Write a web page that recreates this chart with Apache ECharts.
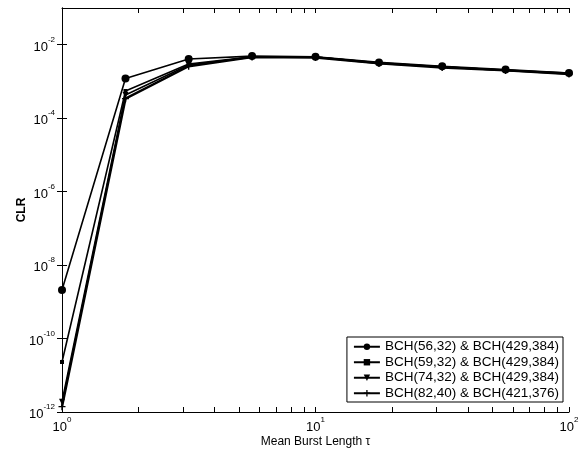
<!DOCTYPE html>
<html>
<head>
<meta charset="utf-8">
<style>
  html, body { margin: 0; padding: 0; background: #fff; }
  #chart { width: 579px; height: 458px; }
</style>
<script src="https://cdn.jsdelivr.net/npm/echarts@6/dist/echarts.min.js"></script>
</head>
<body>
<div id="chart"></div>
<script>
// mean burst length values (x) and CLR per code pair (y)
const burstLength = [1, 1.78, 3.16, 5.62, 10, 17.8, 31.6, 56.2, 100];
const clr5632 = [2.1e-9, 1.2e-3, 4.1e-3, 4.9e-3, 4.7e-3, 3.3e-3, 2.6e-3, 2.1e-3, 1.7e-3];
const clr5932 = [2.3e-11, 5.5e-4, 3.0e-3, 4.7e-3, 4.6e-3, 3.2e-3, 2.5e-3, 2.0e-3, 1.7e-3];
const clr7432 = [1.9e-12, 4.3e-4, 2.8e-3, 4.6e-3, 4.6e-3, 3.1e-3, 2.5e-3, 2.0e-3, 1.6e-3];
const clr8240 = [1.4e-12, 3.4e-4, 2.6e-3, 4.6e-3, 4.5e-3, 3.1e-3, 2.4e-3, 2.0e-3, 1.6e-3];
const seriesNames = [
    'BCH(56,32) & BCH(429,384)',
    'BCH(59,32) & BCH(429,384)',
    'BCH(74,32) & BCH(429,384)',
    'BCH(82,40) & BCH(421,376)'
];
const xDecades = [0, 1, 2];
const yDecades = [-12, -10, -8, -6, -4, -2];

const font = '"Liberation Sans", Arial, sans-serif';
const plusPath = 'path://M4,0 L6,0 L6,4 L10,4 L10,6 L6,6 L6,10 L4,10 L4,6 L0,6 L0,4 L4,4 Z';

// minor tick positions on the log x-axis
let xMinor = [];
[1, 10].forEach(d => {
    for (let k = 2; k <= 9; k++) xMinor.push(Math.log10(k * d));
});

function toPairs(ys) {
    return burstLength.map((x, i) => [Math.log10(x), Math.log10(ys[i])]);
}

function powLabel(v) {
    return '{b|10}{s|' + v + '}';
}

const richLabel = {
    b: { fontSize: 13, fontFamily: font, color: '#000', padding: [5, 0, 0, 0] },
    s: { fontSize: 8, fontFamily: font, color: '#000', verticalAlign: 'top', padding: [0, 0, 7, 0] }
};

let chart = echarts.init(document.getElementById('chart'));

const axisLine = { show: true, lineStyle: { color: '#000', width: 1 } };

let option = {
    backgroundColor: '#fff',
    animation: false,
    textStyle: { fontFamily: font },
    grid: { left: 62, right: 10, top: 8, bottom: 46, outerBoundsMode: 'none' },
    xAxis: [
        {
            type: 'value', min: 0, max: 2,
            name: 'Mean Burst Length τ',
            nameLocation: 'middle', nameGap: 24, nameMoveOverlap: false,
            nameTextStyle: { fontSize: 12, color: '#000', fontFamily: font },
            axisLine: axisLine,
            axisTick: { show: true, inside: true, length: 5, customValues: xDecades.concat(xMinor), lineStyle: { color: '#000' } },
            axisLabel: { customValues: xDecades, formatter: powLabel, rich: richLabel, margin: 4 },
            splitLine: { show: false }
        },
        {
            type: 'value', min: 0, max: 2, position: 'top',
            axisLine: axisLine,
            axisTick: { show: true, inside: true, length: 5, customValues: xDecades.concat(xMinor), lineStyle: { color: '#000' } },
            axisLabel: { show: false },
            splitLine: { show: false }
        }
    ],
    yAxis: [
        {
            type: 'value', min: -12, max: -1,
            name: 'CLR',
            nameLocation: 'middle', nameGap: 34, nameMoveOverlap: false,
            nameTextStyle: { fontSize: 12, color: '#000', fontFamily: font, fontWeight: 'bold' },
            axisLine: axisLine,
            axisTick: { show: true, inside: true, length: 5, customValues: yDecades, lineStyle: { color: '#000' } },
            axisLabel: { customValues: yDecades, formatter: powLabel, rich: richLabel, margin: 7 },
            splitLine: { show: false }
        },
        {
            type: 'value', min: -12, max: -1, position: 'right',
            axisLine: axisLine,
            axisTick: { show: true, inside: true, length: 5, customValues: yDecades, lineStyle: { color: '#000' } },
            axisLabel: { show: false },
            splitLine: { show: false }
        }
    ],
    legend: {
        orient: 'vertical',
        right: 16, bottom: 56,
        backgroundColor: '#fff',
        borderColor: '#000',
        borderWidth: 1,
        borderRadius: 0,
        padding: [2, 4, 1, 6],
        itemGap: 0,
        itemWidth: 26,
        itemHeight: 8,
        textStyle: { fontSize: 13.5, lineHeight: 15.5, color: '#000', fontFamily: font },
        data: seriesNames
    },
    series: [
        {
            name: seriesNames[0], type: 'line', data: toPairs(clr5632),
            symbol: 'circle', symbolSize: 8,
            lineStyle: { color: '#000', width: 1.6 }, itemStyle: { color: '#000' }
        },
        {
            name: seriesNames[1], type: 'line', data: toPairs(clr5932),
            symbol: 'rect', symbolSize: 4,
            lineStyle: { color: '#000', width: 1.6 }, itemStyle: { color: '#000' }
        },
        {
            name: seriesNames[2], type: 'line', data: toPairs(clr7432),
            symbol: 'triangle', symbolRotate: 180, symbolSize: 6,
            lineStyle: { color: '#000', width: 1.6 }, itemStyle: { color: '#000' }
        },
        {
            name: seriesNames[3], type: 'line', data: toPairs(clr8240),
            symbol: plusPath, symbolSize: 7,
            lineStyle: { color: '#000', width: 2.4 }, itemStyle: { color: '#000' }
        }
    ]
};

chart.setOption(option);

window.addEventListener('resize', () => {
    chart.resize();
});
</script>
</body>
</html>
